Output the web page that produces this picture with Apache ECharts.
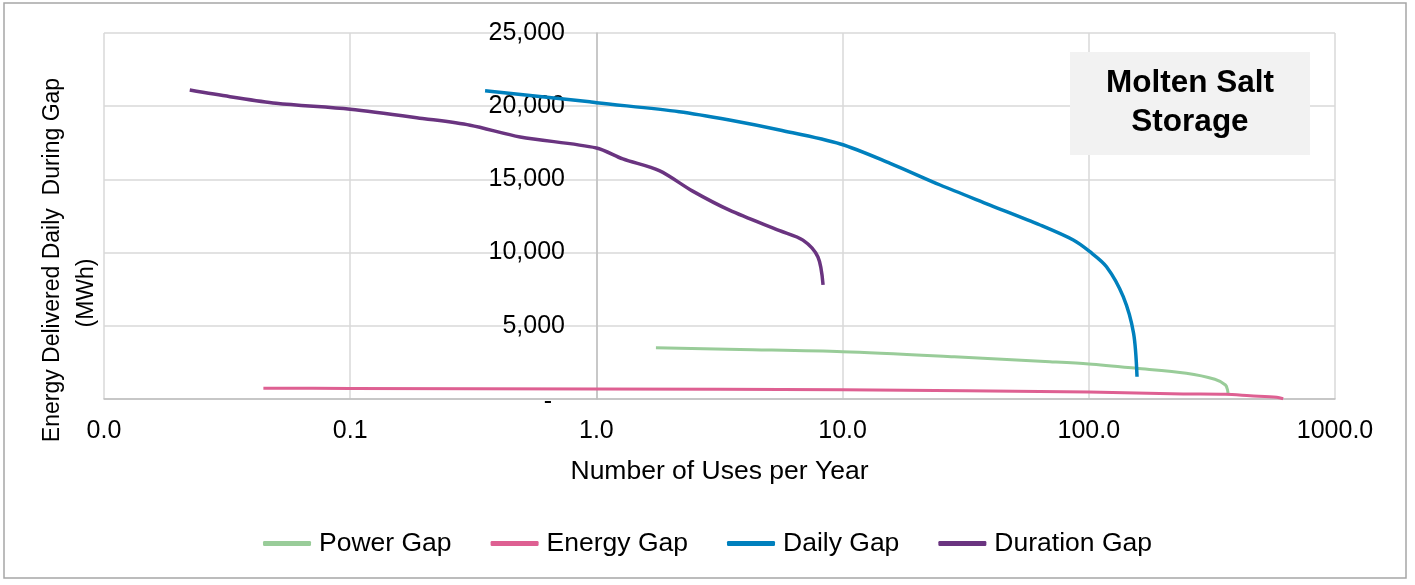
<!DOCTYPE html>
<html>
<head>
<meta charset="utf-8">
<script src="https://cdn.jsdelivr.net/npm/echarts@6.0.0/dist/echarts.min.js"></script>
<style>
  html, body { margin: 0; padding: 0; background: #fff; }
  #main { width: 1415px; height: 585px; }
</style>
</head>
<body>
<div id="main"></div>
<script>
// values: [uses per year, MWh]
const powerGap = [
  [1.745, 3500], [3.83, 3380], [10, 3231], [28.4, 2889], [69.5, 2548],
  [100, 2391], [156, 2097], [249, 1755], [325, 1345], [359, 956],
  [366, 620], [368, 273]
];
const energyGap = [
  [0.0444, 740], [0.1, 725], [1.0, 685], [10, 625], [100, 470],
  [242, 350], [359, 320], [452, 220], [580, 116], [616, 20]
];
const dailyGap = [
  [0.353, 21050], [0.94, 20310], [1.0, 20240], [2.17, 19625], [3.47, 19057],
  [5.55, 18374], [9.8, 17418], [15.6, 16100], [24.9, 14617], [39.7, 13250],
  [63.4, 11885], [86.5, 10860], [101, 10061], [118, 9037], [138, 6988],
  [152, 4488], [157, 1523]
];
const durationGap = [
  [0.0223, 21100], [0.0325, 20650], [0.05, 20200], [0.1, 19790], [0.2, 19150],
  [0.307, 18700], [0.49, 17900], [1.0, 17150], [1.28, 16400], [1.8, 15600],
  [2.46, 14200], [3.47, 12900], [5.55, 11500], [6.9, 10850], [7.94, 9700],
  [8.33, 7800]
];
const seriesNames = ['Power Gap', 'Energy Gap', 'Daily Gap', 'Duration Gap'];
const seriesColors = ['#99cc99', '#de6092', '#0080bd', '#6a3480'];
const seriesData = [powerGap, energyGap, dailyGap, durationGap];

const FONT = '"Liberation Sans", Arial, sans-serif';

const myChart = echarts.init(document.getElementById('main'));

myChart.setOption({
  animation: false,
  textStyle: { fontFamily: FONT },
  grid: { left: 104, right: 80, top: 33, bottom: 186 },
  legend: {
    data: seriesNames,
    left: 'center',
    top: 525,
    icon: 'roundRect',
    itemWidth: 48,
    itemHeight: 5,
    itemGap: 39,
    textStyle: { fontSize: 26.5, color: '#000', fontFamily: FONT, padding: [0, 0, 0, 3] }
  },
  xAxis: {
    type: 'log',
    logBase: 10,
    min: 0.01,
    max: 1000,
    name: 'Number of Uses per Year',
    nameLocation: 'middle',
    nameGap: 59,
    nameTextStyle: { fontSize: 26.5, color: '#000', fontFamily: FONT },
    axisLine: { show: true, lineStyle: { color: '#bfbfbf', width: 1.5 } },
    axisTick: { show: false },
    axisLabel: {
      fontSize: 25,
      color: '#000',
      margin: 20,
      formatter: (v) => v.toFixed(1)
    },
    splitLine: { show: true, lineStyle: { color: '#d9d9d9', width: 1.5 } }
  },
  yAxis: {
    type: 'value',
    min: 0,
    max: 25000,
    interval: 5000,
    position: 'left',
    offset: -493,
    axisLine: { show: true, lineStyle: { color: '#bfbfbf', width: 1.5 } },
    axisTick: { show: false },
    axisLabel: {
      fontSize: 25,
      color: '#000',
      margin: 32,
      formatter: (v) => (v === 0 ? '{z|-}' : v.toLocaleString('en-US')),
      rich: { z: { fontSize: 25, color: '#000', padding: [6, 13, 0, 0] } }
    },
    splitLine: { show: true, lineStyle: { color: '#d9d9d9', width: 1.5 } }
  },
  series: seriesNames.map((name, i) => ({
    name,
    type: 'line',
    data: seriesData[i],
    showSymbol: false,
    symbol: 'none',
    smooth: 0.3,
    color: seriesColors[i],
    lineStyle: { width: i >= 2 ? 3.5 : 3, color: seriesColors[i] }
  })),
  graphic: [
    {
      type: 'rect',
      shape: { x: 4, y: 3, width: 1402, height: 575 },
      style: { fill: 'none', stroke: '#a6a6a6', lineWidth: 1.5 },
      silent: true
    },
    {
      type: 'text',
      x: 53, y: 260,
      rotation: Math.PI / 2,
      style: {
        text: 'Energy Delivered Daily  During Gap',
        font: '23px ' + FONT,
        fill: '#000',
        align: 'center',
        verticalAlign: 'middle'
      }
    },
    {
      type: 'text',
      x: 87, y: 293,
      rotation: Math.PI / 2,
      style: {
        text: '(MWh)',
        font: '23px ' + FONT,
        fill: '#000',
        align: 'center',
        verticalAlign: 'middle'
      }
    },
    {
      type: 'rect',
      z: 100,
      shape: { x: 1070, y: 52, width: 240, height: 103 },
      style: { fill: '#f2f2f2' }
    },
    {
      type: 'text',
      z: 101,
      x: 1190, y: 83,
      style: {
        text: 'Molten Salt',
        font: 'bold 31.5px ' + FONT,
        fill: '#000',
        align: 'center',
        verticalAlign: 'middle'
      }
    },
    {
      type: 'text',
      z: 101,
      x: 1190, y: 122,
      style: {
        text: 'Storage',
        font: 'bold 31.5px ' + FONT,
        fill: '#000',
        align: 'center',
        verticalAlign: 'middle'
      }
    }
  ]
});
</script>
</body>
</html>
